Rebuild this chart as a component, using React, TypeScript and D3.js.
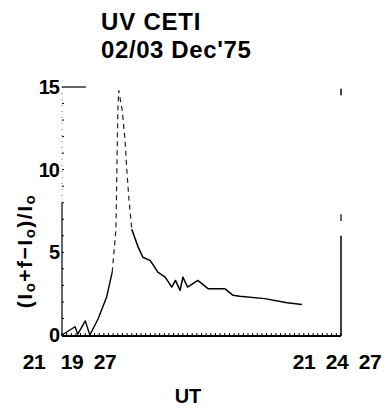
import React from "react";
import * as d3 from "d3";

// UV Ceti flare light curve, seconds after 21h 19m 27s UT
const timeSec = [0, 14, 17, 25, 30, 39, 48, 54, 58, 60, 61, 65, 68, 70, 72, 75, 82, 87, 95, 103, 111, 118, 122, 127, 130, 135, 146, 157, 175, 184, 191, 218, 242, 258];
const flux = [0, 0.5, 0.05, 0.85, 0, 1.0, 2.3, 3.8, 6.4, 13.5, 14.8, 13.5, 11.6, 9.7, 8.2, 6.4, 5.3, 4.7, 4.5, 3.8, 3.5, 2.9, 3.3, 2.7, 3.5, 2.9, 3.3, 2.8, 2.8, 2.4, 2.35, 2.2, 1.95, 1.85];

const yTicks = [0, 5, 10, 15];
const startLabel = ["21", "19", "27"];
const endLabel = ["21", "24", "27"];

const W = 388;
const H = 416;
const FONT = "'Liberation Sans', Arial, Helvetica, sans-serif";

export default function App() {
  const x = d3.scaleLinear().domain([0, 300]).range([62, 341]);
  const y = d3.scaleLinear().domain([0, 15]).range([335, 87]);

  const pts = timeSec.map((t, i) => ({ t, v: flux[i] }));
  const line = d3.line<{ t: number; v: number }>().x((d) => x(d.t)).y((d) => y(d.v));

  // faint dashed flare rise/peak, solid elsewhere
  const pre = pts.filter((d) => d.t <= 54);
  const peak = pts.filter((d) => d.t >= 54 && d.t <= 75);
  const decay = pts.filter((d) => d.t >= 75);

  const y0 = y(0);
  const minor = d3.range(0, 301, 5);
  const yMinor = d3.range(0, 15, 1);

  return (
    <svg width={W} height={H} style={{ position: "absolute", left: 0, top: 0, background: "#fff" }}>
      {/* title */}
      <text x={101} y={30} fontFamily={FONT} fontWeight="bold" fontSize={24} fill="#000" letterSpacing={0.8}>
        UV CETI
      </text>
      <text x={101} y={58} fontFamily={FONT} fontWeight="bold" fontSize={24} fill="#000" letterSpacing={0.6}>
        02/03 Dec'75
      </text>

      {/* left axis */}
      <line x1={x(0)} x2={x(0)} y1={y(8)} y2={y0 + 1} stroke="#000" strokeWidth={1.2} />
      <line x1={x(0)} x2={x(0)} y1={y(15)} y2={y(8)} stroke="#555" strokeWidth={0.8} strokeDasharray="1 5" />
      {yMinor.map((v) => (
        <line key={"ym" + v} x1={x(0)} x2={x(0) + 2} y1={y(v)} y2={y(v)} stroke="#000" strokeWidth={1} />
      ))}
      <line x1={x(0)} x2={x(0) + 24} y1={y(15)} y2={y(15)} stroke="#000" strokeWidth={1.2} />
      {yTicks.map((v) => (
        <text key={"yt" + v} x={x(0) - 3} y={y(v) + 7} textAnchor="end" fontFamily={FONT} fontWeight="bold" fontSize={20} fill="#000" letterSpacing={-1}>
          {v}
        </text>
      ))}

      {/* right frame edge */}
      <line x1={x(300)} x2={x(300)} y1={y(6)} y2={y0 + 1} stroke="#000" strokeWidth={1.5} />
      <line x1={x(300)} x2={x(300)} y1={y(7.3)} y2={y(6.9)} stroke="#000" strokeWidth={1.2} />
      <line x1={x(300)} x2={x(300)} y1={y(14.9)} y2={y(14.5)} stroke="#000" strokeWidth={1.5} />

      {/* bottom axis */}
      <line x1={x(0)} x2={x(300)} y1={y0 + 1} y2={y0 + 1} stroke="#000" strokeWidth={2} />
      {minor.map((t) => (
        <line key={"xm" + t} x1={x(t)} x2={x(t)} y1={y0 + 1} y2={y0 - 2} stroke="#000" strokeWidth={1} />
      ))}

      {/* time labels: h m s at start and end of the axis */}
      {startLabel.map((s, i) => (
        <text key={"s" + i} x={x(0) + [-28, 10, 43][i]} y={369} textAnchor="middle" fontFamily={FONT} fontWeight="bold" fontSize={21} fill="#000" letterSpacing={-0.5}>
          {s}
        </text>
      ))}
      {endLabel.map((s, i) => (
        <text key={"e" + i} x={x(300) + [-37, -4, 29][i]} y={369} textAnchor="middle" fontFamily={FONT} fontWeight="bold" fontSize={21} fill="#000" letterSpacing={-0.5}>
          {s}
        </text>
      ))}

      {/* axis titles */}
      <text x={188} y={403} textAnchor="middle" fontFamily={FONT} fontWeight="bold" fontSize={20} fill="#000">
        UT
      </text>
      <text
        transform={`translate(32,${251}) rotate(-90)`}
        textAnchor="middle"
        fontFamily={FONT}
        fontWeight="bold"
        fontSize={21}
        fill="#000"
        letterSpacing={1.5}
      >
        (I<tspan fontSize={15} dy={3}>o</tspan>
        <tspan dy={-3}>+f−I</tspan>
        <tspan fontSize={15} dy={3}>o</tspan>
        <tspan dy={-3}>)/I</tspan>
        <tspan fontSize={15} dy={3}>o</tspan>
      </text>

      {/* light curve */}
      <path d={line(pre) || ""} fill="none" stroke="#000" strokeWidth={1.4} strokeLinejoin="round" />
      <path d={line(peak) || ""} fill="none" stroke="#222" strokeWidth={1.2} strokeDasharray="5 4" />
      <path d={line(decay) || ""} fill="none" stroke="#000" strokeWidth={1.5} strokeLinejoin="round" />
    </svg>
  );
}
